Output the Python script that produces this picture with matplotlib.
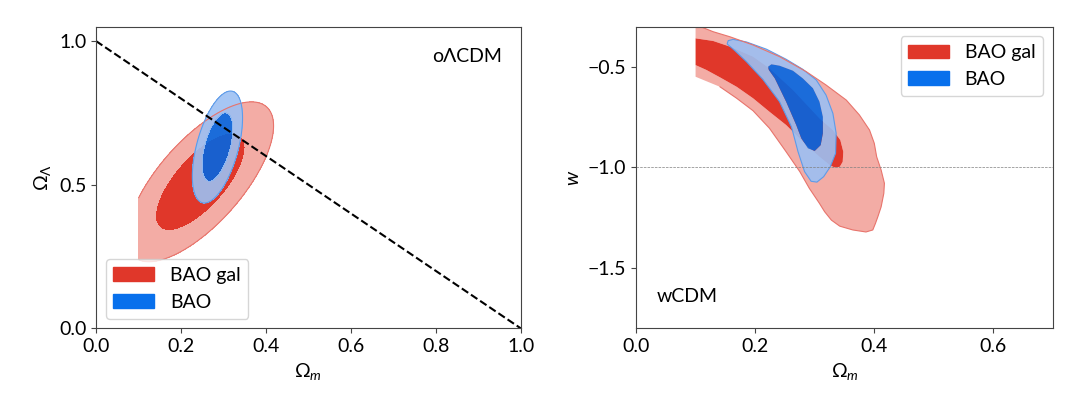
import numpy as np
import matplotlib
matplotlib.use('Agg')
import matplotlib.pyplot as plt
from matplotlib.patches import Patch, PathPatch
from matplotlib.path import Path

plt.rcParams['font.family'] = ['Lato', 'DejaVu Sans']
plt.rcParams['mathtext.fontset'] = 'custom'
plt.rcParams['mathtext.rm'] = 'Lato'
plt.rcParams['mathtext.it'] = 'Lato:italic'
plt.rcParams['mathtext.fallback'] = 'stixsans'
plt.rcParams['font.size'] = 14

# ------------------------------------------------------------------ data
labels = ['BAO gal', 'BAO']

# oLCDM panel: Gaussian approximations (mean Om, mean OL), (sigma Om, sigma OL), correlation
gal_mean = (0.2455, 0.51)
gal_sigma = (0.0695, 0.112)
gal_rho = 0.70
bao_mean = (0.286, 0.631)
bao_sigma = (0.0238, 0.0785)
bao_rho = 0.52
om_prior_min = 0.10
chi2_levels = [2.30, 6.17]          # 68% / 95% for 2 parameters
flat_om = [0.0, 1.0]
flat_ol = [1.0, 0.0]

# wCDM panel: contour outlines (Om, w)
gal95_om = [0.100, 0.1295, 0.1575, 0.1965, 0.241, 0.286, 0.319, 0.353, 0.375, 0.392,
            0.400, 0.404, 0.4115, 0.417, 0.416, 0.4115, 0.406, 0.402, 0.3975,
            0.386, 0.364, 0.342, 0.328, 0.3166, 0.308, 0.291, 0.275, 0.252, 0.224,
            0.1965, 0.169, 0.141, 0.100]
gal95_w = [-0.29, -0.325, -0.350, -0.391, -0.449, -0.524, -0.590, -0.665, -0.739, -0.814,
           -0.880, -0.947, -1.013, -1.079, -1.129, -1.196, -1.245, -1.278, -1.311,
           -1.321, -1.311, -1.292, -1.262, -1.220, -1.179, -1.104, -1.021, -0.922, -0.805,
           -0.718, -0.656, -0.599, -0.549]
gal68_om = [0.100, 0.1295, 0.1575, 0.1965, 0.224, 0.2635, 0.308, 0.3305, 0.343, 0.348,
            0.347, 0.342, 0.333, 0.325, 0.308, 0.286, 0.252, 0.224, 0.1965, 0.169,
            0.141, 0.118, 0.100]
gal68_w = [-0.358, -0.371, -0.399, -0.449, -0.507, -0.615, -0.756, -0.814, -0.864, -0.922,
           -0.972, -0.997, -1.000, -0.988, -0.947, -0.889, -0.789, -0.723, -0.656, -0.599,
           -0.552, -0.515, -0.491]
bao95_om = [0.1547, 0.163, 0.1854, 0.219, 0.252, 0.280, 0.3026, 0.319, 0.3305, 0.336,
            0.335, 0.326, 0.315, 0.3037, 0.294, 0.283, 0.272, 0.261, 0.241, 0.213,
            0.1854, 0.166, 0.153]
bao95_w = [-0.3695, -0.363, -0.376, -0.412, -0.462, -0.512, -0.565, -0.640, -0.731, -0.830,
           -0.930, -0.997, -1.046, -1.073, -1.069, -1.021, -0.922, -0.798, -0.673, -0.562,
           -0.474, -0.419, -0.386]
bao68_om = [0.2217, 0.2273, 0.241, 0.2635, 0.280, 0.297, 0.308, 0.3137, 0.3137, 0.310,
            0.300, 0.2887, 0.2775, 0.269, 0.252, 0.233, 0.223]
bao68_w = [-0.499, -0.487, -0.494, -0.519, -0.557, -0.606, -0.673, -0.748, -0.830, -0.889,
           -0.918, -0.905, -0.855, -0.789, -0.673, -0.557, -0.515]
w_lcdm = -1.0

# ------------------------------------------------------------------ style
red_dark, red_light, red_edge = '#e0372a', '#f3aca5', '#e8746c'
blue_dark, blue_light, blue_edge = '#0365e1', '#9cc0f3', '#5d9be9'
blue_alpha = 0.9
leg_red, leg_blue = '#e0372a', '#0870ec'
spine_col = '#444444'


def chi2_grid(X, Y, mean, sigma, rho):
    zx = (X - mean[0]) / sigma[0]
    zy = (Y - mean[1]) / sigma[1]
    return (zx ** 2 - 2 * rho * zx * zy + zy ** 2) / (1 - rho ** 2)


def signed_area(x, y):
    x = np.asarray(x); y = np.asarray(y)
    return 0.5 * np.sum(x * np.roll(y, -1) - np.roll(x, -1) * y)


def ring_patch(ox, oy, ix, iy, **kw):
    outer = list(zip(ox, oy))
    inner = list(zip(ix, iy))
    if np.sign(signed_area(ox, oy)) == np.sign(signed_area(ix, iy)):
        inner = inner[::-1]
    verts = outer + [outer[0]] + inner + [inner[0]]
    codes = ([Path.MOVETO] + [Path.LINETO] * (len(outer) - 1) + [Path.CLOSEPOLY] +
             [Path.MOVETO] + [Path.LINETO] * (len(inner) - 1) + [Path.CLOSEPOLY])
    return PathPatch(Path(verts, codes), **kw)


fig = plt.figure(figsize=(10.7, 3.96), dpi=100)
ax1 = fig.add_axes([0.0897, 0.171, 0.3969, 0.7616])
ax2 = fig.add_axes([0.5944, 0.171, 0.3897, 0.7616])

# ---------------- left panel
om = np.linspace(0, 1, 600)
ol = np.linspace(0, 1.05, 600)
X, Y = np.meshgrid(om, ol)
c_gal = chi2_grid(X, Y, gal_mean, gal_sigma, gal_rho)
c_gal = np.ma.masked_where(X < om_prior_min, c_gal)
c_bao = chi2_grid(X, Y, bao_mean, bao_sigma, bao_rho)

ax1.contourf(X, Y, c_gal, levels=[0] + chi2_levels, colors=[red_dark, red_light])
ax1.contour(X, Y, c_gal, levels=[chi2_levels[1]], colors=[red_edge], linewidths=0.8)
ax1.contourf(X, Y, c_bao, levels=[0] + chi2_levels, colors=[blue_dark, blue_light],
             alpha=blue_alpha)
ax1.contour(X, Y, c_bao, levels=[chi2_levels[1]], colors=[blue_edge], linewidths=0.8)
ax1.plot(flat_om, flat_ol, 'k--', lw=1.5)
ax1.set_xlim(0, 1)
ax1.set_ylim(0, 1.05)
ax1.set_xticks([0.0, 0.2, 0.4, 0.6, 0.8, 1.0])
ax1.set_yticks([0.0, 0.5, 1.0])
ax1.set_xlabel(r'$\Omega_m$')
ax1.set_ylabel(r'$\Omega_\Lambda$')
ax1.text(0.955, 0.90, 'oΛCDM', transform=ax1.transAxes, ha='right', va='center')

# ---------------- right panel
ax2.add_patch(ring_patch(gal95_om, gal95_w, gal68_om, gal68_w, facecolor=red_light,
                         edgecolor='none'))
ax2.fill(gal68_om, gal68_w, color=red_dark, lw=0)
ax2.plot(gal95_om[:-1], gal95_w[:-1], color=red_edge, lw=0.8)
ax2.add_patch(ring_patch(bao95_om, bao95_w, bao68_om, bao68_w, facecolor=blue_light,
                         edgecolor='none', alpha=blue_alpha))
ax2.fill(bao68_om, bao68_w, color=blue_dark, lw=0, alpha=blue_alpha)
ax2.fill(bao95_om, bao95_w, facecolor='none', edgecolor=blue_edge, lw=0.8)
ax2.axhline(w_lcdm, color='grey', ls='--', lw=0.5)
ax2.set_xlim(0, 0.7)
ax2.set_ylim(-1.8, -0.3)
ax2.set_xticks([0.0, 0.2, 0.4, 0.6])
ax2.set_yticks([-1.5, -1.0, -0.5])
ax2.set_xlabel(r'$\Omega_m$')
ax2.set_ylabel(r'$w$')
ax2.text(0.05, 0.104, 'wCDM', transform=ax2.transAxes, ha='left', va='center')

for ax in (ax1, ax2):
    for s in ax.spines.values():
        s.set_color(spine_col)
    ax.tick_params(color=spine_col)

handles = [Patch(color=leg_red), Patch(color=leg_blue)]
ax1.legend(handles, labels, loc='lower left', handlelength=2.1, handletextpad=0.8)
ax2.legend(handles, labels, loc='upper right', handlelength=2.1, handletextpad=0.8)

fig.savefig('out.png', dpi=100)
